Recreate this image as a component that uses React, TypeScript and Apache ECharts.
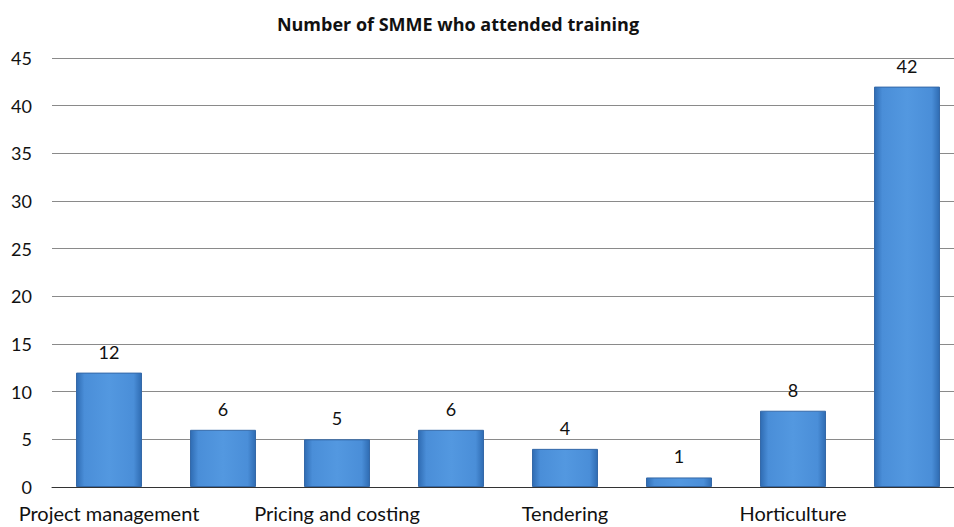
import React, { useEffect, useRef } from "react";
import * as echarts from "echarts";

const categories = [
  "Project management",
  "Financial management",
  "Pricing and costing",
  "Marketing",
  "Tendering",
  "Business plan",
  "Horticulture",
  "Other",
];
const values = [12, 6, 5, 6, 4, 1, 8, 42];
const yTicks = [0, 5, 10, 15, 20, 25, 30, 35, 40, 45];
const title = "Number of SMME who attended training";

export default function App() {
  const ref = useRef<HTMLDivElement>(null);
  useEffect(() => {
    if (!ref.current) return;
    const chart = echarts.init(ref.current, null, { renderer: "svg" });
    const font = "Lato, 'Open Sans', sans-serif";
    chart.setOption({
      animation: false,
      backgroundColor: "#ffffff",
      title: {
        text: title,
        left: 453,
        top: 10,
        textAlign: "center",
        textStyle: { fontFamily: "'Open Sans', sans-serif", fontSize: 18, fontWeight: "bold", color: "#111" },
      },
      grid: { left: 52, top: 58, width: 912, height: 429 },
      xAxis: {
        type: "category",
        data: categories,
        axisLine: { lineStyle: { color: "#333", width: 1 } },
        axisTick: { show: false },
        axisLabel: {
          interval: 1,
          margin: 16,
          fontFamily: font,
          fontSize: 20,
          color: "#111",
        },
      },
      yAxis: {
        type: "value",
        min: 0,
        max: yTicks[yTicks.length - 1],
        interval: 5,
        axisLine: { show: false },
        axisTick: { show: false },
        splitLine: { lineStyle: { color: "#8a8a8a", width: 1 } },
        axisLabel: {
          margin: 20,
          fontFamily: font,
          fontSize: 18,
          color: "#111",
        },
      },
      series: [
        {
          type: "bar",
          data: values,
          barWidth: 66,
          itemStyle: {
            color: new echarts.graphic.LinearGradient(0, 0, 1, 0, [
              { offset: 0, color: "#2f6cb3" },
              { offset: 0.12, color: "#4a8ed8" },
              { offset: 0.5, color: "#5398e0" },
              { offset: 0.88, color: "#4a8ed8" },
              { offset: 1, color: "#2f6cb3" },
            ]),
            borderColor: "#3569a8",
            borderWidth: 1,
          },
          label: {
            show: true,
            position: "top",
            distance: 12,
            fontFamily: font,
            fontSize: 18,
            color: "#111",
          },
        },
      ],
    });
    return () => chart.dispose();
  }, []);
  return (
    <div style={{ position: "fixed", left: 0, top: 0, width: 954, height: 527, overflow: "hidden", background: "#fff" }}>
      <div ref={ref} style={{ width: 980, height: 527 }} />
    </div>
  );
}
